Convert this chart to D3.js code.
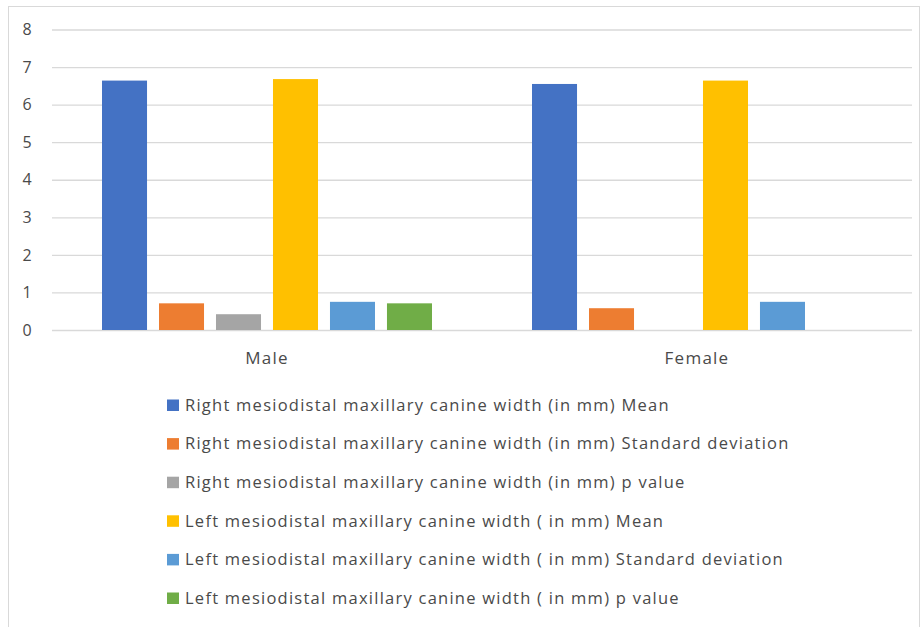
<!DOCTYPE html>
<html><head><meta charset="utf-8">
<script src="https://cdn.jsdelivr.net/npm/d3@7"></script>
<style>body{margin:0;background:#fff}svg{display:block}</style>
</head><body>
<script>
const categories = ["Male", "Female"];
const seriesNames = [
  "Right mesiodistal maxillary canine width (in mm) Mean",
  "Right mesiodistal maxillary canine width (in mm) Standard deviation",
  "Right mesiodistal maxillary canine width (in mm) p value",
  "Left mesiodistal maxillary canine width ( in mm) Mean",
  "Left mesiodistal maxillary canine width ( in mm) Standard deviation",
  "Left mesiodistal maxillary canine width ( in mm) p value"
];
const maleValues = [6.64, 0.71, 0.42, 6.68, 0.75, 0.71];
const femaleValues = [6.55, 0.58, null, 6.64, 0.75, null];
const seriesColors = ["#4472C4", "#ED7D31", "#A5A5A5", "#FFC000", "#5B9BD5", "#70AD47"];
const yTicks = [0, 1, 2, 3, 4, 5, 6, 7, 8];

(function () {
const W = 923, H = 627;
const svg = d3.select("body").append("svg").attr("width", W).attr("height", H);
const font = "'Open Sans', 'Liberation Sans', sans-serif";

svg.append("rect").attr("x", 8.5).attr("y", 6.5).attr("width", 911).attr("height", 640)
  .attr("fill", "#fff").attr("stroke", "#d9d9d9");

const pL = 52, pR = 912, pT = 29.5, pB = 330;
const y = d3.scaleLinear().domain([0, 8]).range([pB, pT]);
const x0 = d3.scaleBand().domain(categories).range([pL, pR]).paddingInner(0.2326).paddingOuter(0.1163);
const x1 = d3.scaleBand().domain(d3.range(seriesNames.length)).range([0, x0.bandwidth()]).paddingInner(0.21);

const yAxis = d3.axisLeft(y).tickValues(yTicks).tickSize(-(pR - pL)).tickFormat(d3.format("d"));
const ga = svg.append("g").attr("transform", `translate(${pL},0)`).call(yAxis);
ga.select(".domain").remove();
ga.selectAll(".tick line").attr("stroke", "#d9d9d9").attr("stroke-width", 1.3);
ga.selectAll(".tick text").attr("x", -25).attr("fill", "#4a4a4a")
  .attr("font-family", font).attr("font-size", 16).attr("text-anchor", "middle");

const rows = categories.map((c, i) => ({cat: c, vals: i === 0 ? maleValues : femaleValues}));
const groups = svg.append("g").selectAll("g").data(rows).join("g")
  .attr("transform", d => `translate(${x0(d.cat)},0)`);
groups.selectAll("rect").data(d => d.vals.map((v, i) => ({v, i})).filter(e => e.v != null))
  .join("rect")
  .attr("x", d => x1(d.i)).attr("width", x1.bandwidth())
  .attr("y", d => y(d.v)).attr("height", d => y(0) - y(d.v))
  .attr("fill", d => seriesColors[d.i]);

const xAxis = d3.axisBottom(x0).tickSize(0).tickPadding(0);
const gx = svg.append("g").attr("transform", `translate(0,${pB})`).call(xAxis);
gx.select(".domain").remove();
gx.selectAll(".tick text").attr("y", 28.5).attr("dy", "0.35em").attr("fill", "#4a4a4a")
  .attr("font-family", font).attr("font-size", 17).attr("letter-spacing", 1.25);

const lg = svg.append("g");
const items = lg.selectAll("g").data(seriesNames).join("g")
  .attr("transform", (d, i) => `translate(167,${405 + i * 38.6})`);
items.append("rect").attr("x", 0).attr("y", -5.5).attr("width", 12).attr("height", 11.5)
  .attr("fill", (d, i) => seriesColors[i]);
items.append("text").attr("x", 18).attr("dy", "0.35em").text(d => d)
  .attr("fill", "#4a4a4a").attr("font-family", font).attr("font-size", 16.5)
  .attr("letter-spacing", 1.25);
})();
</script>
</body></html>
